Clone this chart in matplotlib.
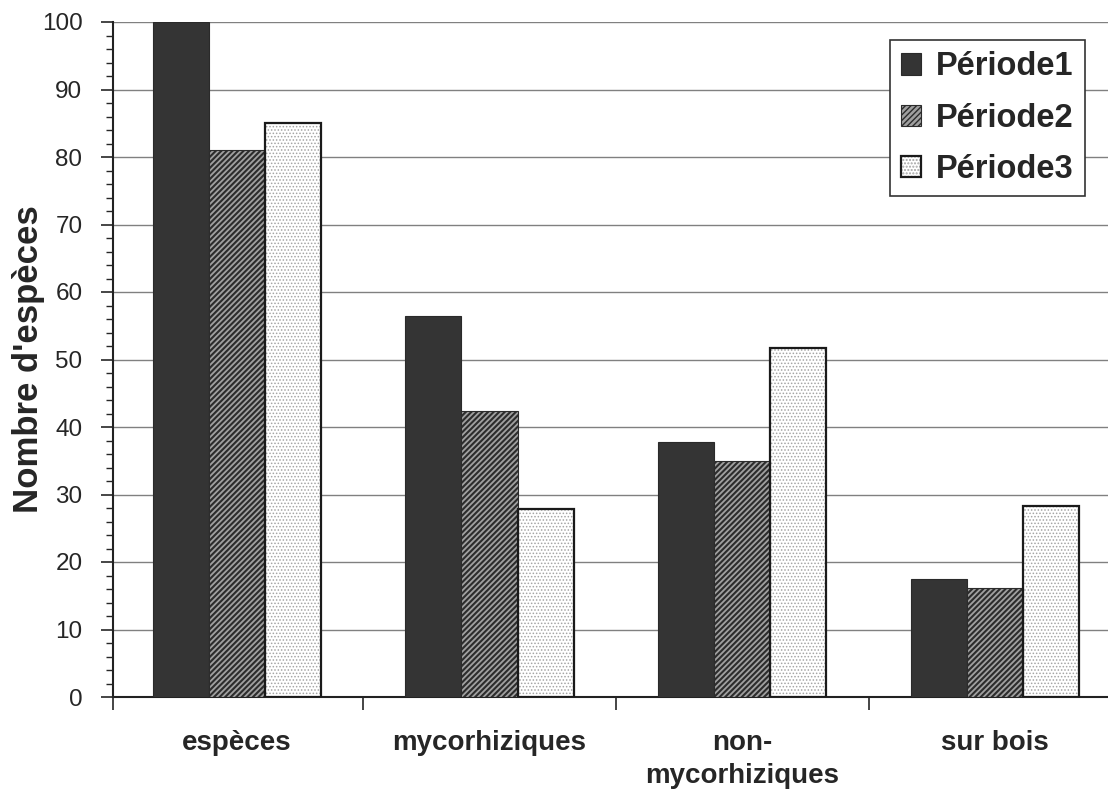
import matplotlib
matplotlib.use("Agg")
import matplotlib.pyplot as plt
from matplotlib.legend_handler import HandlerTuple
from matplotlib.ticker import MultipleLocator, FixedLocator, NullFormatter
import numpy as np

# Species counts per group and period
categories = ["espèces", "mycorhiziques", "non-\nmycorhiziques", "sur bois"]
periode1 = [100, 56.4, 37.8, 17.5]
periode2 = [81, 42.3, 35.0, 16.2]
periode3 = [85.1, 27.8, 51.7, 28.3]
series_labels = ["Période1", "Période2", "Période3"]
y_label = "Nombre d'espèces"

plt.rcParams["font.family"] = ["Liberation Sans", "DejaVu Sans"]
TEXT = "#262626"

W, H = 1108, 789
fig = plt.figure(figsize=(W / 100, H / 100), dpi=100)

x = np.arange(len(categories))
lo, hi = -0.49, len(categories) - 0.51
unit_px = 252.7
left_px, bottom_px, top_px = 113, 697, 22
ax = fig.add_axes([left_px / W, 1 - bottom_px / H,
                   (hi - lo) * unit_px / W, (bottom_px - top_px) / H])

w = 1 / 4.5  # three bars plus a 150 % gap per category


def hatch_width(container, lw):
    for p in container:
        if hasattr(p, "set_hatch_linewidth"):
            p.set_hatch_linewidth(lw)


b1 = ax.bar(x - w, periode1, w, color="#343434", edgecolor="#2a2a2a",
            linewidth=0.8, zorder=3)

with plt.rc_context({"hatch.linewidth": 1.5}):
    b2 = ax.bar(x, periode2, w, facecolor="#a0a0a0", edgecolor="#2c2c2c",
                hatch="//////", linewidth=0, zorder=3)
hatch_width(b2, 1.5)
b2e = ax.bar(x, periode2, w, fill=False, edgecolor="#2c2c2c",
             linewidth=0.8, zorder=4)

with plt.rc_context({"hatch.linewidth": 0.7}):
    b3 = ax.bar(x + w, periode3, w, facecolor="white", edgecolor="#a4a4a4",
                hatch=".....", linewidth=0, zorder=3)
hatch_width(b3, 0.7)
b3e = ax.bar(x + w, periode3, w, fill=False, edgecolor="#1a1a1a",
             linewidth=1.6, zorder=4)

# Axes, ticks and grid
ax.set_xlim(lo, hi)
ax.set_ylim(0, 100)
ax.yaxis.set_major_locator(MultipleLocator(10))
ax.yaxis.set_minor_locator(MultipleLocator(2))
ax.tick_params(axis="y", which="major", length=9, width=1.2, pad=13,
               labelsize=17.5, colors=TEXT)
ax.tick_params(axis="y", which="minor", length=5, width=1, colors=TEXT)
ax.grid(axis="y", which="major", color="#808080", linewidth=1.0)
ax.set_axisbelow(True)

ax.xaxis.set_major_locator(FixedLocator([lo] + list(x[:-1] + 0.5)))
ax.xaxis.set_major_formatter(NullFormatter())
ax.xaxis.set_minor_locator(FixedLocator(x))
ax.set_xticklabels(categories, minor=True, fontsize=20, fontweight="bold",
                   color=TEXT, linespacing=1.35)
ax.tick_params(axis="x", which="major", length=9, width=1.2, colors=TEXT)
ax.tick_params(axis="x", which="minor", length=0, pad=24)

for side in ("top", "right"):
    ax.spines[side].set_visible(False)
for side in ("left", "bottom"):
    ax.spines[side].set_color("#222222")
    ax.spines[side].set_linewidth(1.5)

fig.text(29 / W, 1 - (bottom_px + top_px) / 2 / H, y_label, rotation=90,
         ha="center", va="center", fontsize=25, fontweight="bold", color=TEXT)

leg = ax.legend([b1, (b2[0], b2e[0]), (b3[0], b3e[0])], series_labels,
                handler_map={tuple: HandlerTuple(ndivide=1, pad=0)},
                loc="upper right", bbox_to_anchor=(1085 / W, 1 - 40 / H),
                bbox_transform=fig.transFigure, borderaxespad=0,
                prop={"weight": "bold", "size": 23.5},
                frameon=True, fancybox=False, framealpha=1,
                edgecolor="#333333", handlelength=0.62, handleheight=0.62,
                handletextpad=0.45, labelspacing=0.62, borderpad=0.35)
leg.get_frame().set_linewidth(1.2)
for t in leg.get_texts():
    t.set_color(TEXT)

fig.savefig("out.png", dpi=100)
